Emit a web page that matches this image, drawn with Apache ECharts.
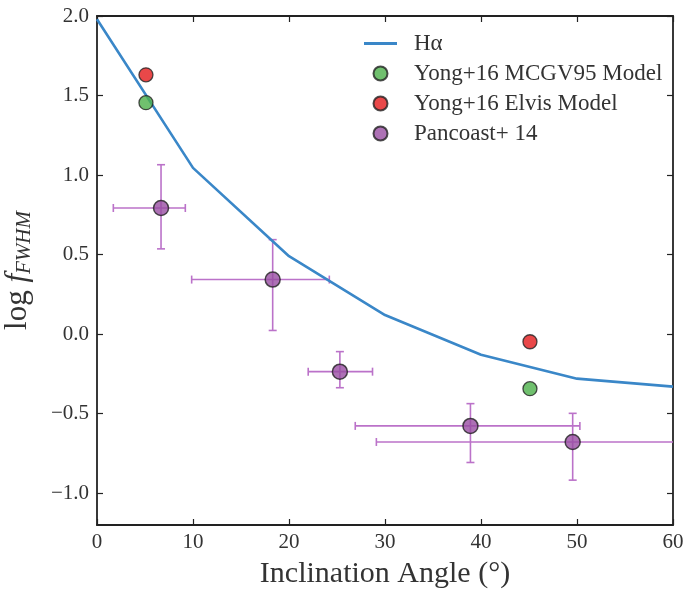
<!DOCTYPE html>
<html><head><meta charset="utf-8">
<script src="https://cdn.jsdelivr.net/npm/echarts@6/dist/echarts.min.js"></script>
<style>html,body{margin:0;padding:0;background:#fff}#c{width:684px;height:590px}</style>
</head><body><div id="c"></div>
<script>
// Data
const halphaX = [0, 10, 20, 30, 40, 50, 60];
const halphaY = [1.98, 1.045, 0.49, 0.12, -0.13, -0.28, -0.33];
const mcgvX = [5.1, 45.1];
const mcgvY = [1.455, -0.343];
const elvisX = [5.1, 45.1];
const elvisY = [1.63, -0.048];
const panX = [6.67, 18.3, 25.3, 38.9, 49.55];
const panY = [0.793, 0.343, -0.236, -0.577, -0.678];
const panXLo = [1.7, 9.86, 22.0, 26.9, 29.1];
const panXHi = [9.2, 24.2, 28.7, 50.3, 70];
const panYLo = [0.536, 0.023, -0.337, -0.807, -0.918];
const panYHi = [1.065, 0.594, -0.11, -0.437, -0.498];
const xTicks = [0, 10, 20, 30, 40, 50, 60];
const yTicks = [-1.0, -0.5, 0.0, 0.5, 1.0, 1.5, 2.0];

const FONT = '"Liberation Serif", "DejaVu Serif", serif';
const zip = (a, b) => a.map((v, i) => [v, b[i]]);
const LINE_COLOR = '#3a87c8';

const chart = echarts.init(document.getElementById('c'));
const axisLineStyle = {color: '#222', width: 1.8};
const tickStyle = {color: '#222', width: 1.2};

chart.setOption({
  animation: false,
  grid: {left: 97, right: 11, top: 16, bottom: 65, containLabel: false, outerBoundsMode: 'none'},
  legend: {
    orient: 'vertical', left: 359, top: 27, itemGap: 7,
    itemWidth: 33, itemHeight: 14,
    textStyle: {fontFamily: FONT, fontSize: 23, color: '#333', padding: [0, 0, 0, 12]},
    data: [
      {name: 'Hα', icon: 'path://M0,0 L33,0 L33,2.8 L0,2.8 Z', itemStyle: {color: LINE_COLOR}},
      {name: 'Yong+16 MCGV95 Model', icon: 'circle'},
      {name: 'Yong+16 Elvis Model', icon: 'circle'},
      {name: 'Pancoast+ 14', icon: 'circle'}
    ]
  },
  xAxis: [{
    type: 'value', min: 0, max: 60, interval: 10, position: 'bottom',
    name: 'Inclination Angle (°)', nameLocation: 'middle', nameGap: 34,
    nameTextStyle: {fontFamily: FONT, fontSize: 30, color: '#333'},
    axisLine: {onZero: false, lineStyle: axisLineStyle},
    axisTick: {inside: true, length: 6, lineStyle: tickStyle, customValues: xTicks},
    axisLabel: {fontFamily: FONT, fontSize: 21, color: '#333', margin: 7, customValues: xTicks},
    splitLine: {show: false}
  }, {
    type: 'value', min: 0, max: 60, interval: 10, position: 'top',
    axisLine: {onZero: false, lineStyle: axisLineStyle},
    axisTick: {inside: true, length: 6, lineStyle: tickStyle},
    axisLabel: {show: false}, splitLine: {show: false}
  }],
  yAxis: [{
    type: 'value', min: -1.2, max: 2.0, position: 'left',
    name: '{n|log }{f|f}{s|FWHM}', nameLocation: 'middle', nameGap: 62,
    nameTextStyle: {
      fontFamily: FONT, fontSize: 31, color: '#333',
      rich: {
        n: {fontFamily: FONT, fontSize: 31, color: '#333'},
        f: {fontFamily: FONT, fontSize: 31, fontStyle: 'italic', color: '#333'},
        s: {fontFamily: FONT, fontSize: 21, fontStyle: 'italic', color: '#333', padding: [13, 0, 0, 0]}
      }
    },
    axisLine: {onZero: false, lineStyle: axisLineStyle},
    axisTick: {inside: true, length: 6, lineStyle: tickStyle, customValues: yTicks},
    axisLabel: {
      fontFamily: FONT, fontSize: 21, color: '#333', margin: 8, customValues: yTicks,
      formatter: v => v.toFixed(1).replace('-', '\u2212')
    },
    splitLine: {show: false}
  }, {
    type: 'value', min: -1.2, max: 2.0, position: 'right',
    axisLine: {onZero: false, lineStyle: axisLineStyle},
    axisTick: {inside: true, length: 6, lineStyle: tickStyle, customValues: yTicks},
    axisLabel: {show: false}, splitLine: {show: false}
  }],
  series: [
    {
      name: 'Hα', type: 'line', data: zip(halphaX, halphaY), symbol: 'none',
      lineStyle: {color: LINE_COLOR, width: 2.6}, itemStyle: {color: LINE_COLOR}, z: 3
    },
    {
      name: 'errbars', type: 'custom', clip: true, z: 2,
      data: panX.map((x, i) => [x, panY[i], panXLo[i], panXHi[i], panYLo[i], panYHi[i]]),
      renderItem: (params, api) => {
        const c = api.coord([api.value(0), api.value(1)]);
        const xl = api.coord([api.value(2), api.value(1)]);
        const xh = api.coord([api.value(3), api.value(1)]);
        const yl = api.coord([api.value(0), api.value(4)]);
        const yh = api.coord([api.value(0), api.value(5)]);
        const cap = 4;
        const st = {stroke: '#bb72c9', lineWidth: 1.6};
        const ln = (x1, y1, x2, y2) => ({type: 'line', shape: {x1, y1, x2, y2}, style: st});
        return {type: 'group', children: [
          ln(xl[0], c[1], xh[0], c[1]),
          ln(c[0], yl[1], c[0], yh[1]),
          ln(xl[0], c[1] - cap, xl[0], c[1] + cap),
          ln(xh[0], c[1] - cap, xh[0], c[1] + cap),
          ln(c[0] - cap, yl[1], c[0] + cap, yl[1]),
          ln(c[0] - cap, yh[1], c[0] + cap, yh[1])
        ]};
      }
    },
    {
      name: 'Yong+16 MCGV95 Model', type: 'scatter', data: zip(mcgvX, mcgvY), symbolSize: 14, z: 4,
      itemStyle: {color: '#4cb04a', borderColor: '#222', borderWidth: 1.3}
    },
    {
      name: 'Yong+16 Elvis Model', type: 'scatter', data: zip(elvisX, elvisY), symbolSize: 14, z: 4,
      itemStyle: {color: '#e41a1c', borderColor: '#222', borderWidth: 1.3}
    },
    {
      name: 'Pancoast+ 14', type: 'scatter', data: zip(panX, panY), symbolSize: 15, z: 4,
      itemStyle: {color: '#984ea3', borderColor: '#222', borderWidth: 1.5}
    }
  ]
});
</script></body></html>
